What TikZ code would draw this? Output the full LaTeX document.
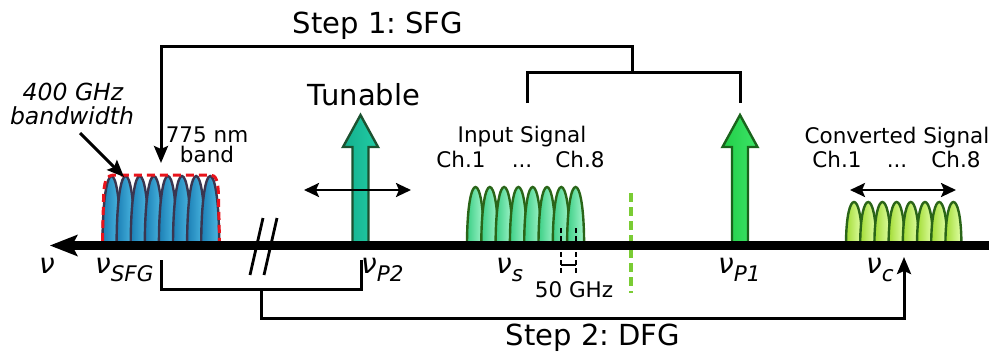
\documentclass[tikz,border=0pt]{standalone}
\usepackage{fontspec}
\setmainfont{DejaVu Sans}
\usetikzlibrary{arrows.meta}
\frenchspacing
\definecolor{lobeblueL}{HTML}{1B7FB5}
\definecolor{lobeblueR}{HTML}{4DB9E3}
\definecolor{lobeblueO}{HTML}{3A3650}
\definecolor{lobegreenL}{HTML}{3CCF86}
\definecolor{lobegreenR}{HTML}{A4F5CC}
\definecolor{lobegreenO}{HTML}{2A6518}
\definecolor{lobelimeL}{HTML}{A2DC35}
\definecolor{lobelimeR}{HTML}{E2FFA8}
\definecolor{tealL}{HTML}{14B08E}
\definecolor{tealR}{HTML}{22CCA5}
\definecolor{tealO}{HTML}{1C5230}
\definecolor{pumpL}{HTML}{22CF48}
\definecolor{pumpR}{HTML}{3DE468}
\definecolor{pumpO}{HTML}{1A641C}
\definecolor{redline}{HTML}{E8141C}
\definecolor{limeline}{HTML}{7ACC34}
\newcommand{\bigf}{\fontsize{29}{31}\selectfont}
\newcommand{\midf}{\fontsize{21.5}{24}\selectfont}
\newcommand{\annf}{\fontsize{23.5}{26}\selectfont\itshape}
\newcommand{\nuf}{\fontsize{28}{30}\selectfont\itshape}
\newcommand{\subf}{\fontsize{21.5}{24}\selectfont\itshape}
\newcommand{\nulab}[1]{{\nuf ν}\raisebox{-8pt}{\subf #1}}
\newcommand{\mylobes}[6]{%
  \foreach \i in {0,...,7}{%
    \pgfmathsetmacro\xa{#1+\i*#2}%
    \pgfmathsetmacro\cy{#4-(#5-#4)/3}%
    \path[#6] (\xa,#5) .. controls (\xa+0.02*#3,\cy) and (\xa+0.98*#3,\cy) .. (\xa+#3,#5) -- cycle;
  }}
\begin{document}
\begin{tikzpicture}[x=1pt,y=-1pt,
  conn/.style={line width=3pt, line join=miter},
  tipped/.style={-{Stealth[length=17pt,width=14pt,inset=3pt]}},
  dbl/.style={line width=2.5pt,{Stealth[length=15pt,width=14pt,inset=3pt]}-{Stealth[length=15pt,width=14pt,inset=3pt]}},
  txt/.style={inner sep=0pt, anchor=base},
  nulabel/.style={inner sep=0pt, anchor=base west},
  bluelobe/.style={draw=lobeblueO, line width=2.4pt, left color=lobeblueL, right color=lobeblueR},
  greenlobe/.style={draw=lobegreenO, line width=2.4pt, left color=lobegreenL, right color=lobegreenR},
  limelobe/.style={draw=lobegreenO, line width=2.4pt, left color=lobelimeL, right color=lobelimeR},
  tealpump/.style={draw=tealO, line width=2.4pt, left color=tealL, right color=tealR},
  greenpump/.style={draw=pumpO, line width=2.4pt, left color=pumpL, right color=pumpR},
]
\useasboundingbox (0,0) rectangle (992,354);

% lobes (spectra)
\mylobes{102.5}{14.1}{18}{176}{243}{bluelobe}
\mylobes{467}{14.3}{17}{187}{243}{greenlobe}
\mylobes{846}{14.2}{16}{202}{243}{limelobe}

% pump arrows
\path[tealpump] (352.5,243) -- (352.5,147) -- (343,147) -- (360.5,115) -- (378,147) -- (368.5,147) -- (368.5,243) -- cycle;
\path[greenpump] (732,243) -- (732,147) -- (722.5,147) -- (740,115) -- (757.5,147) -- (748,147) -- (748,243) -- cycle;

% red dashed envelope
\draw[redline, line width=3pt, dash pattern=on 8pt off 5pt]
  (102.5,241) -- (103.5,200) .. controls (104,180) and (106,175) .. (115,175) -- (210,175)
  .. controls (216,175) and (218,180) .. (218.5,196) -- (219.5,241);

% 50 GHz marker
\coordinate (ga) at (561,228); \coordinate (gb) at (561,275);
\coordinate (gc) at (576,228); \coordinate (gd) at (576,275);
\draw[line width=2.8pt, dash pattern=on 5pt off 3pt] (ga) -- (gb);
\draw[line width=2.8pt, dash pattern=on 5pt off 3pt] (gc) -- (gd);
\coordinate (ge) at (561,265); \coordinate (gf) at (576,265);
\draw[line width=2.5pt] (ge) -- (gf);

% green dashed separator
\coordinate (sa) at (631,193); \coordinate (sb) at (631,293);
\draw[limeline, line width=3.4pt, dash pattern=on 9pt off 5pt] (sa) -- (sb);

% axis
\coordinate (axR) at (989,245.5); \coordinate (axL) at (50,245.5);
\draw[line width=9pt, -{Stealth[length=28pt,width=22pt,inset=6pt,line width=0pt]}] (axR) -- (axL);

% break marks
\coordinate (b1a) at (250,275); \coordinate (b1b) at (263,218);
\coordinate (b2a) at (264,275); \coordinate (b2b) at (277,218);
\draw[line width=2.8pt] (b1a) -- (b1b);
\draw[line width=2.8pt] (b2a) -- (b2b);

% tuning arrows
\coordinate (ta) at (304,190); \coordinate (tb) at (411,190);
\draw[dbl] (ta) -- (tb);
\coordinate (ca) at (850,190); \coordinate (cb) at (956,190);
\draw[dbl] (ca) -- (cb);

% Step 1 connectors
\coordinate (s1a) at (161,163); \coordinate (s1b) at (161,46);
\coordinate (s1c) at (632,46); \coordinate (s1d) at (632,72);
\coordinate (s1e) at (527,103); \coordinate (s1f) at (527,72);
\coordinate (s1g) at (740,72); \coordinate (s1h) at (740,103);
\draw[conn, tipped] (s1d) -- (s1c) -- (s1b) -- (s1a);
\draw[conn] (s1e) -- (s1f) -- (s1g) -- (s1h);

% Step 2 connectors
\coordinate (t2a) at (161,260); \coordinate (t2b) at (161,289);
\coordinate (t2c) at (361,289); \coordinate (t2d) at (361,260);
\coordinate (t2e) at (261,289); \coordinate (t2f) at (261,318);
\coordinate (t2g) at (904,318); \coordinate (t2h) at (904,257);
\draw[conn] (t2a) -- (t2b) -- (t2c) -- (t2d);
\draw[conn, tipped] (t2e) -- (t2f) -- (t2g) -- (t2h);

% bandwidth annotation arrow
\coordinate (bwa) at (80,133); \coordinate (bwb) at (124,177);
\draw[line width=3pt, tipped] (bwa) -- (bwb);

% texts
\node[txt] (step1) at (378,33) {\bigf Step 1: SFG};
\node[txt] (tun) at (364,105) {\bigf Tunable};
\node[txt] (step2) at (593,345) {\bigf Step 2: DFG};
\node[txt] (bw1) at (73,100) {\annf 400 GHz};
\node[txt] (bw2) at (72,124) {\annf bandwidth};
\node[txt] (nm1) at (207,142) {\midf 775 nm};
\node[txt] (nm2) at (207,162) {\midf band};
\node[txt] (in1) at (522,142) {\midf Input Signal};
\node[txt] (in2) at (461,167) {\midf Ch.1};
\node[txt] (in3) at (522,167) {\midf ...};
\node[txt] (in4) at (580,167) {\midf Ch.8};
\node[txt] (cv1) at (897,143) {\midf Converted Signal};
\node[txt] (cv2) at (837,167) {\midf Ch.1};
\node[txt] (cv3) at (897,167) {\midf ...};
\node[txt] (cv4) at (956,167) {\midf Ch.8};
\node[txt] (ghz) at (574,297) {\midf 50 GHz};

% frequency labels
\node[nulabel] (nu) at (39,273) {\nuf ν};
\node[nulabel] (nusfg) at (95,273) {\nulab{SFG}};
\node[nulabel] (nup2) at (361,273) {\nulab{P2}};
\node[nulabel] (nus) at (496,273) {\nulab{s}};
\node[nulabel] (nup1) at (718,273) {\nulab{P1}};
\node[nulabel] (nuc) at (866,273) {\nulab{c}};
\end{tikzpicture}
\end{document}
